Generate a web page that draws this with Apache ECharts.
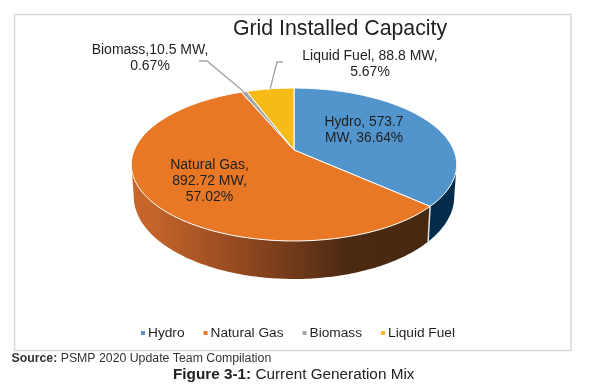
<!DOCTYPE html>
<html>
<head>
<meta charset="utf-8">
<style>
  html, body { margin: 0; background: #fff; }
  #main { width: 605px; height: 389px; }
</style>
<script src="https://cdn.jsdelivr.net/npm/echarts@6/dist/echarts.min.js"></script>
</head>
<body>
<div id="main"></div>
<script>
const categories = ['Hydro', 'Natural Gas', 'Biomass', 'Liquid Fuel']
const capacityMw = [573.7, 892.72, 10.5, 88.8]
const sliceLabels = [
  'Hydro, 573.7\nMW, 36.64%',
  'Natural Gas,\n892.72 MW,\n57.02%',
  'Biomass,10.5 MW,\n0.67%',
  'Liquid Fuel, 88.8 MW,\n5.67%'
]
const sliceColors = ['#5295cd', '#e87825', '#a5a5a5', '#f7bb17']

const FONT = '"Liberation Sans", Arial, sans-serif'
const TEXT = '#1f1f1f'

// perspective disc: apex of the slices, half axes, how much the far side shrinks
const pie = { cx: 294, cy: 150, a: 159.7, b: 73.7, p: 0.19 }
// lower disc of the 3d wall
const base = { sx: 0.985, sy: 1.078, dy: 30.9 }
const visibleFrom = 101, visibleTo = 259

const labelPos = [[364, 130.5], [209.5, 181], [150, 58.5], [370, 64.5]]
const labelFont = [13.8, 14, 14, 14]
const leaders = [null, null, [[199, 61], [207, 61]], [[283, 62], [277, 62]]]
const wallFill = [
  '#032c4a',
  { type: 'linear', x: 0, y: 0, x2: 1, y2: 0, colorStops: [
    { offset: 0, color: '#c8672a' }, { offset: 0.07, color: '#c4642a' },
    { offset: 0.39, color: '#8f471f' }, { offset: 0.72, color: '#4c2a12' },
    { offset: 1, color: '#472810' }] },
  null, null
]

const total = capacityMw.reduce((a, b) => a + b, 0)
const startDeg = []
capacityMw.reduce((acc, v, i) => { startDeg[i] = acc / total * 360; return acc + v }, 0)

// theta is clockwise from 12 o'clock
function onTop(deg) {
  const t = deg * Math.PI / 180
  const w = 1 + pie.p * Math.cos(t)
  return [pie.cx + pie.a * Math.sin(t) / w, pie.cy - pie.b * Math.cos(t) / w]
}
function onBase(deg) {
  const [x, y] = onTop(deg)
  return [pie.cx + (x - pie.cx) * base.sx, pie.cy + (y - pie.cy) * base.sy + base.dy]
}
function arc(fn, from, to) {
  const pts = []
  const n = Math.max(2, Math.ceil(Math.abs(to - from)))
  for (let i = 0; i <= n; i++) pts.push(fn(from + (to - from) * i / n))
  return pts
}

function renderSlice(idx) {
  return function (params, api) {
    const from = startDeg[idx]
    const to = from + api.value(0) / total * 360
    const children = []

    const wallFrom = Math.max(from, visibleFrom), wallTo = Math.min(to, visibleTo)
    if (wallFill[idx] && wallTo > wallFrom) {
      children.push({
        type: 'polygon',
        shape: { points: arc(onTop, wallFrom, wallTo).concat(arc(onBase, wallTo, wallFrom)) },
        style: { fill: wallFill[idx] }
      })
      if (from >= visibleFrom) {
        children.push({
          type: 'line',
          shape: { x1: onTop(from)[0], y1: onTop(from)[1], x2: onBase(from)[0], y2: onBase(from)[1] },
          style: { stroke: '#dfe3e6', lineWidth: 1.5 }
        })
      }
    }

    children.push({
      type: 'polygon',
      shape: { points: [[pie.cx, pie.cy]].concat(arc(onTop, from, to)) },
      style: { fill: sliceColors[idx], stroke: '#fff', lineWidth: 1, lineJoin: 'round' }
    })

    if (leaders[idx]) {
      const mid = onTop((from + to) / 2)
      children.push({
        type: 'polyline',
        shape: { points: leaders[idx].concat([mid]) },
        style: { stroke: '#a5a5a5', lineWidth: 1.4, fill: null }
      })
    }

    children.push({
      type: 'text',
      z2: 10,
      style: {
        text: sliceLabels[idx], x: labelPos[idx][0], y: labelPos[idx][1],
        align: 'center', verticalAlign: 'middle',
        font: labelFont[idx] + 'px ' + FONT, lineHeight: 15.8, fill: TEXT
      }
    })
    return { type: 'group', children }
  }
}

const chart = echarts.init(document.getElementById('main'))
chart.setOption({
  animation: false,
  backgroundColor: '#fff',
  title: [
    { text: 'Grid Installed Capacity', left: 340, top: 19, padding: 0, textAlign: 'center',
      textStyle: { fontFamily: FONT, fontSize: 21.3, fontWeight: 'normal', color: TEXT } },
    { text: '{b|Source:} PSMP 2020 Update Team Compilation', left: 11.5, top: 353, padding: 0,
      textStyle: { rich: { b: { fontFamily: FONT, fontSize: 12.3, fontWeight: 'bold', color: '#333' } },
        fontFamily: FONT, fontSize: 12.3, fontWeight: 'normal', color: '#333' } },
    { text: '{b|Figure 3-1:} Current Generation Mix', left: 173, top: 367, padding: 0,
      textStyle: { rich: { b: { fontFamily: FONT, fontSize: 15.3, fontWeight: 'bold', color: '#222' } },
        fontFamily: FONT, fontSize: 15.3, fontWeight: 'normal', color: '#222' } }
  ],
  graphic: [{
    type: 'rect', silent: true, z: -1,
    shape: { x: 14.5, y: 14.5, width: 556.5, height: 336 },
    style: { fill: '#fff', stroke: '#d9d9d9', lineWidth: 1.5 }
  }],
  legend: {
    left: 136, top: 321, icon: 'rect', itemWidth: 4, itemHeight: 4, itemGap: 19,
    data: categories,
    textStyle: { fontFamily: FONT, fontSize: 13.7, color: TEXT, padding: [0, 0, 0, -2] }
  },
  series: categories.map((name, i) => ({
    name,
    type: 'custom',
    coordinateSystem: 'none',
    itemStyle: { color: sliceColors[i] },
    renderItem: renderSlice(i),
    data: [[capacityMw[i]]],
    silent: true
  }))
})
</script>
</body>
</html>
